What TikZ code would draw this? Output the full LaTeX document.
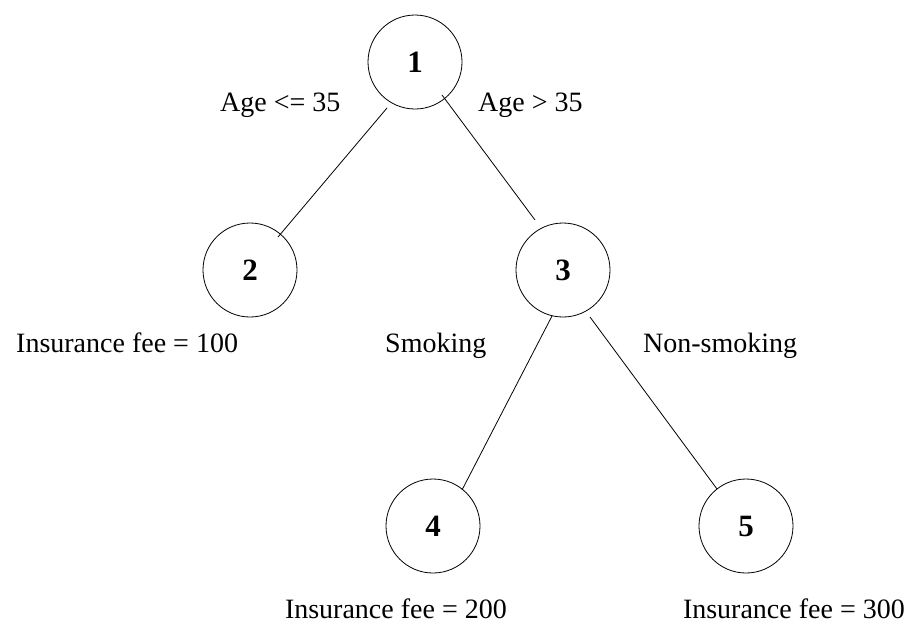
\documentclass[tikz,border=0pt]{standalone}
\usepackage{fontspec}
\setmainfont{Liberation Serif}
\usetikzlibrary{calc}
\begin{document}
\begin{tikzpicture}[x=1pt,y=-1pt,
  treenode/.style={draw, circle, line width=0.8pt, minimum size=94pt, inner sep=0pt,
                   font=\fontsize{31}{34}\selectfont\bfseries},
  lbl/.style={inner sep=0pt, font=\fontsize{28}{32}\selectfont},
  branch/.style={line width=0.8pt}]
  \useasboundingbox (0,0) rectangle (907,625);

  % decision tree nodes
  \node[treenode] (n1) at (415,62)  {1};
  \node[treenode] (n2) at (250,270) {2};
  \node[treenode] (n3) at (563,270) {3};
  \node[treenode] (n4) at (433,526) {4};
  \node[treenode] (n5) at (746,526) {5};

  % branches
  \draw[branch] ($(n1)+(-28,46)$) -- ($(n2)+(28,-33)$);
  \draw[branch] ($(n1)+(27,33)$)  -- ($(n3)+(-28,-50)$);
  \draw[branch] ($(n3)+(-11,46)$) -- ($(n4)+(29,-36)$);
  \draw[branch] ($(n3)+(27,47)$)  -- ($(n5)+(-29,-37)$);

  % split conditions
  \node[lbl, anchor=base west] (c12) at (220,111) {Age <= 35};
  \node[lbl, anchor=base west] (c13) at (478,111) {Age > 35};
  \node[lbl, anchor=base west] (c34) at (385,352) {Smoking};
  \node[lbl, anchor=base west] (c35) at (643,352) {Non-smoking};

  % leaf values
  \node[lbl, anchor=base west] (f2) at (16,352)  {Insurance fee = 100};
  \node[lbl, anchor=base east] (f4) at (507,618) {Insurance fee = 200};
  \node[lbl, anchor=base east] (f5) at (905,618) {Insurance fee = 300};
\end{tikzpicture}
\end{document}
